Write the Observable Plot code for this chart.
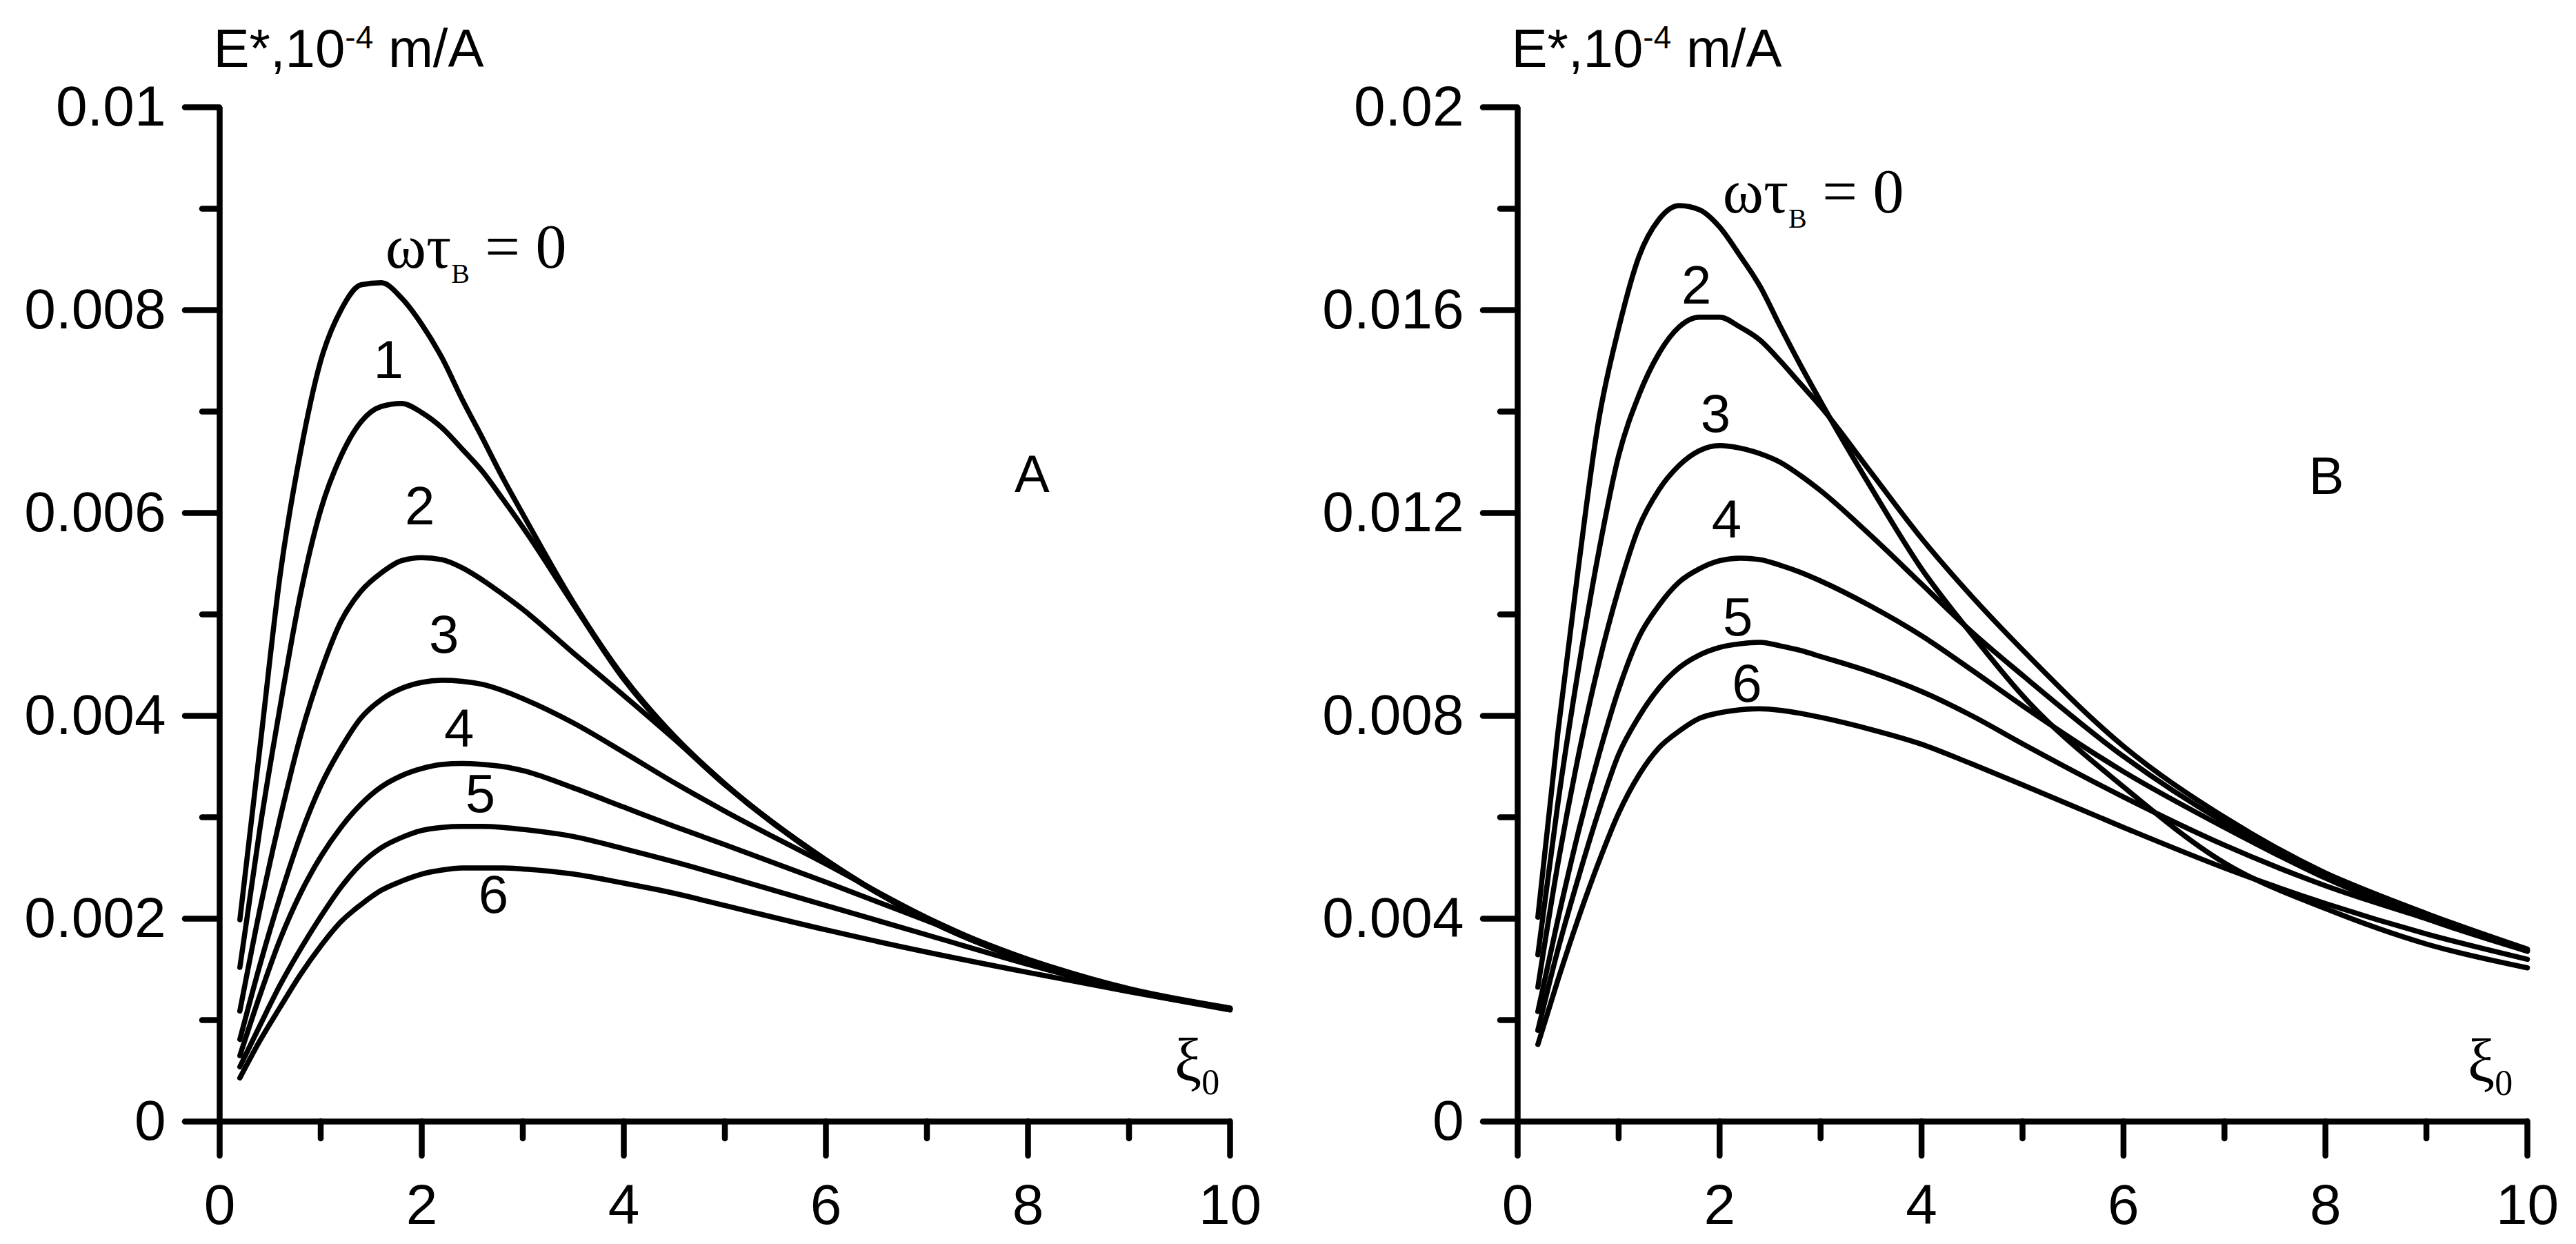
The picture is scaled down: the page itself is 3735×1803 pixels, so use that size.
<!DOCTYPE html>
<html><head><meta charset="utf-8">
<script src="https://cdn.jsdelivr.net/npm/d3@7"></script>
<script src="https://cdn.jsdelivr.net/npm/@observablehq/plot@0.6"></script>
<style>
html,body{margin:0;padding:0;background:#fff;}
#wrap{display:flex;width:3735px;height:1803px;overflow:hidden;}
#wrap svg{display:block;}
</style></head><body><div id="wrap"></div>
<script>
// ---- data ----
const xs = [0.2,0.4,0.6,0.8,1.0,1.2,1.4,1.6,1.8,2.0,2.2,2.4,2.6,2.8,3.0,3.5,4.0,4.5,5,6,7,8,9,10];

// Panel A (ωτB = 0, 1 ... 6)
const A0 = [0.00199,0.0037,0.0054,0.0066,0.0075,0.0080,0.00825,0.00827,0.00812,0.00786,0.00753,0.00712,0.00674,0.00635,0.00599,0.00512,0.00438,0.00380,0.00333,0.00258,0.00199,0.00158,0.00130,0.00111];
const A1 = [0.00152,0.0029,0.0041,0.0052,0.00603,0.00656,0.00690,0.00705,0.00708,0.00699,0.00684,0.00663,0.00641,0.00614,0.00586,0.00510,0.00436,0.00379,0.00333,0.00258,0.00199,0.00158,0.00130,0.00111];
const A2 = [0.00109,0.0021,0.0030,0.0038,0.00443,0.00493,0.00523,0.00541,0.00553,0.00556,0.00554,0.00546,0.00534,0.00520,0.00505,0.00462,0.00420,0.00377,0.00332,0.00257,0.00199,0.00158,0.00130,0.00111];
const A3 = [0.00081,0.00155,0.00222,0.00282,0.00331,0.00368,0.00398,0.00416,0.00427,0.00433,0.00435,0.00434,0.00431,0.00425,0.00417,0.00393,0.00364,0.00334,0.00306,0.00254,0.00201,0.00159,0.00130,0.00111];
const A4 = [0.00065,0.00125,0.0018,0.00225,0.00261,0.00290,0.00313,0.00330,0.00341,0.00348,0.00352,0.00353,0.00352,0.00350,0.00346,0.00329,0.00310,0.00291,0.00273,0.00236,0.00198,0.00160,0.00131,0.00112];
const A5 = [0.00054,0.00095,0.00135,0.00170,0.00202,0.00231,0.00254,0.00270,0.00280,0.00287,0.00290,0.00291,0.00291,0.00290,0.00288,0.00281,0.00269,0.00256,0.00242,0.00213,0.00184,0.00155,0.00129,0.00111];
const A6 = [0.00043,0.00080,0.00113,0.00145,0.00173,0.00197,0.00214,0.00228,0.00237,0.00244,0.00248,0.00250,0.00250,0.00250,0.00249,0.00244,0.00235,0.00225,0.00213,0.00189,0.00167,0.00147,0.00128,0.00110];

// Panel B (ωτB = 0, 2 ... 6)
const B0 = [0.00403,0.0077,0.0109,0.0138,0.01564,0.01705,0.01779,0.01806,0.01798,0.01764,0.01708,0.01647,0.01568,0.01492,0.01420,0.01250,0.01090,0.00960,0.00840,0.00660,0.00510,0.00420,0.00350,0.00303];
const B2 = [0.00329,0.0063,0.0089,0.0112,0.01313,0.01432,0.01515,0.01567,0.01586,0.01586,0.01567,0.01541,0.01500,0.01455,0.01410,0.01280,0.01150,0.01035,0.00930,0.00740,0.00600,0.00490,0.00410,0.00340];
const B3 = [0.00265,0.0051,0.0072,0.0090,0.0105,0.01172,0.01246,0.01294,0.01323,0.01333,0.01328,0.01317,0.01300,0.01274,0.01244,0.01155,0.01060,0.00965,0.00880,0.0072,0.0059,0.0049,0.0041,0.00338];
const B4 = [0.00217,0.0040,0.0057,0.0072,0.00852,0.00955,0.01018,0.01064,0.01090,0.01106,0.01111,0.01108,0.01097,0.01083,0.01066,0.01016,0.00958,0.0089,0.0082,0.0069,0.0058,0.0048,0.0040,0.00336];
const B5 = [0.0018,0.0034,0.0048,0.0061,0.00724,0.00798,0.00855,0.00895,0.00920,0.00935,0.00942,0.00945,0.00938,0.00929,0.00917,0.00886,0.00848,0.00800,0.00745,0.00640,0.00545,0.00465,0.0040,0.00336];
const B6 = [0.00152,0.0028,0.0040,0.0051,0.00608,0.00683,0.00737,0.00770,0.00795,0.00806,0.00812,0.00814,0.00811,0.00805,0.00797,0.00773,0.00744,0.00705,0.00664,0.00580,0.0050,0.0043,0.0037,0.0032];

// ticks
const xMajor = [0,2,4,6,8,10];
const xMajorLabels = ["0","2","4","6","8","10"];
const xMinor = [1,3,5,7,9];
const yMajorA = [0,0.002,0.004,0.006,0.008,0.01];
const yMajorLabelsA = ["0","0.002","0.004","0.006","0.008","0.01"];
const yMinorA = [0.001,0.003,0.005,0.007,0.009];
const yMajorB = [0,0.004,0.008,0.012,0.016,0.02];
const yMajorLabelsB = ["0","0.004","0.008","0.012","0.016","0.02"];
const yMinorB = [0.002,0.006,0.01,0.014,0.018];

// texts
const yTitle = "E*,10-4 m/A";
const xTitle = "ξ0";
const zeroLabel = "ωτB = 0";
const curveLabelsA = [
  {t:"1", x:1.67, y:0.0075}, {t:"2", x:1.98, y:0.00606}, {t:"3", x:2.22, y:0.00479},
  {t:"4", x:2.37, y:0.00387}, {t:"5", x:2.58, y:0.00322}, {t:"6", x:2.71, y:0.00223}
];
const curveLabelsB = [
  {t:"2", x:1.77, y:0.01647}, {t:"3", x:1.96, y:0.01394}, {t:"4", x:2.07, y:0.01185},
  {t:"5", x:2.18, y:0.00993}, {t:"6", x:2.27, y:0.00862}
];
const zeroPosA = {x:1.64, y:0.00842};
const zeroPosB = {x:2.03, y:0.01792};
const letterA = {t:"A", x:8.04, y:0.00637};
const letterB = {t:"B", x:8.01, y:0.01271};
const xiPosA = {x:9.45, y:0.000396};
const xiPosB = {x:9.41, y:0.000789};

// ---- build ----
function toRows(list) {
  return list.flatMap(([name, vals]) => xs.map((x, i) => ({x, y: vals[i], s: name})));
}

const rich = {
  "ωτB = 0": [["ωτ", 90, 0], ["B", 40, 22], [" = 0", 90, -22]],
  "ξ0": [["ξ", 88, 0], ["0", 52, 19]],
  "E*,10-4 m/A": [["E*,10", 78, 0], ["-4", 46, -27], [" m/A", 78, 27]]
};

function panel(o) {
  const lab = new Map(o.yMajor.map((v, i) => [v, o.yLabels[i]]));
  const xlab = new Map(xMajor.map((v, i) => [v, xMajorLabels[i]]));
  const svg = Plot.plot({
    width: o.width, height: 1803,
    marginLeft: o.ml, marginRight: o.mr, marginTop: 155, marginBottom: 178,
    x: {domain: [0, 10], label: null},
    y: {domain: [0, o.yMax], label: null},
    style: {fontFamily: "'Liberation Sans', Arial, sans-serif", color: "black", background: "white", overflow: "visible"},
    marks: [
      Plot.line(toRows(o.series), {x: "x", y: "y", z: "s", stroke: "black", strokeWidth: 7.5,
        curve: "monotone-x", strokeLinejoin: "round", strokeLinecap: "round"}),
      Plot.ruleX([0], {stroke: "black", strokeWidth: 8.5}),
      Plot.ruleY([0], {stroke: "black", strokeWidth: 8.5}),
      Plot.axisY({ticks: o.yMajor, tickSize: 50, tickPadding: 28, fontSize: 82, strokeWidth: 8.5,
        strokeLinecap: "round", label: null, tickFormat: d => lab.get(d)}),
      Plot.axisY({ticks: o.yMinor, tickSize: 25, text: null, strokeWidth: 8.5, strokeLinecap: "round", label: null}),
      Plot.axisX({ticks: xMajor, tickSize: 50, tickPadding: 40, fontSize: 82, strokeWidth: 8.5,
        strokeLinecap: "round", label: null, tickFormat: d => xlab.get(d)}),
      Plot.axisX({ticks: xMinor, tickSize: 25, text: null, strokeWidth: 8.5, strokeLinecap: "round", label: null}),
      Plot.text([yTitle], {text: d => d, frameAnchor: "top-left", dx: -9, dy: -59,
        textAnchor: "start", lineAnchor: "bottom", fontSize: 78, fill: "black"}),
      Plot.text(o.labels, {x: "x", y: "y", text: "t", fontSize: 78, fill: "black",
        textAnchor: "middle", lineAnchor: "middle"}),
      Plot.text([o.letter], {x: "x", y: "y", text: "t", fontSize: 76, fill: "black",
        textAnchor: "middle", lineAnchor: "middle"}),
      Plot.text([o.zeroPos], {x: "x", y: "y", text: () => zeroLabel, fontSize: 90, fill: "black",
        fontFamily: "'Liberation Serif', 'Times New Roman', serif", textAnchor: "start", lineAnchor: "bottom"}),
      Plot.text([o.xiPos], {x: "x", y: "y", text: () => xTitle, fontSize: 88, fill: "black",
        fontFamily: "'Liberation Serif', 'Times New Roman', serif", textAnchor: "start", lineAnchor: "bottom"})
    ]
  });
  svg.querySelectorAll("text").forEach(t => {
    const parts = rich[t.textContent];
    if (!parts) return;
    t.textContent = "";
    for (const [s, fs, dy] of parts) {
      const ts = document.createElementNS("http://www.w3.org/2000/svg", "tspan");
      ts.textContent = s;
      ts.setAttribute("font-size", fs);
      if (dy) ts.setAttribute("dy", dy);
      t.appendChild(ts);
    }
  });
  return svg;
}

const wrap = document.getElementById("wrap");
wrap.appendChild(panel({
  width: 1868, ml: 318, mr: 85, yMax: 0.01,
  yMajor: yMajorA, yLabels: yMajorLabelsA, yMinor: yMinorA,
  series: [["0", A0], ["1", A1], ["2", A2], ["3", A3], ["4", A4], ["5", A5], ["6", A6]],
  labels: curveLabelsA, letter: letterA, zeroPos: zeroPosA, xiPos: xiPosA
}));
wrap.appendChild(panel({
  width: 1867, ml: 332, mr: 71, yMax: 0.02,
  yMajor: yMajorB, yLabels: yMajorLabelsB, yMinor: yMinorB,
  series: [["0", B0], ["2", B2], ["3", B3], ["4", B4], ["5", B5], ["6", B6]],
  labels: curveLabelsB, letter: letterB, zeroPos: zeroPosB, xiPos: xiPosB
}));
</script></body></html>
